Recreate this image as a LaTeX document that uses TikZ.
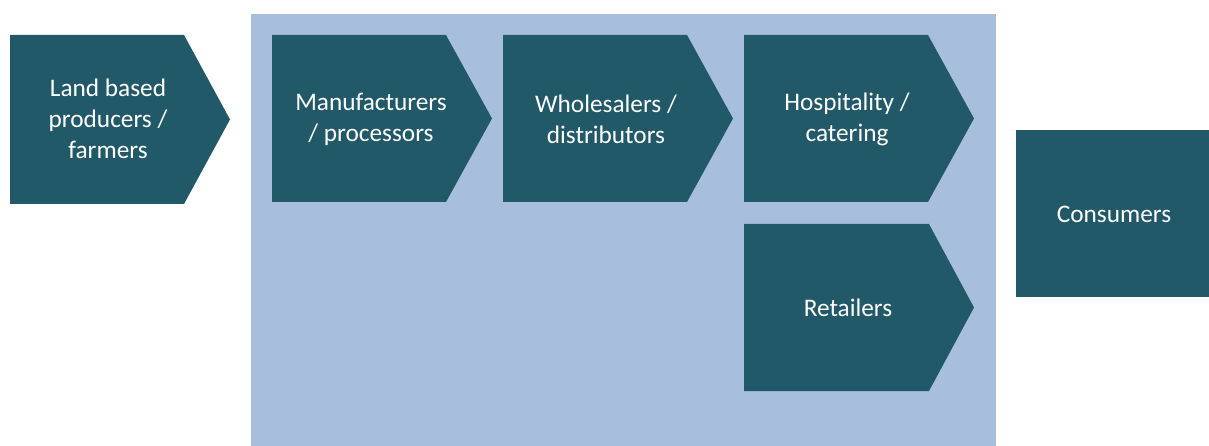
\documentclass[tikz,border=0pt]{standalone}
\usepackage{fontspec}
\setmainfont{Carlito}
\definecolor{darkteal}{HTML}{215968}
\definecolor{lightbg}{HTML}{A7BFDD}
\tikzset{
  x=1pt, y=-1pt,
  shapefill/.style={fill=darkteal},
  lbl/.style={text=white, align=center, inner sep=0pt, font=\fontsize{25.3}{31}\selectfont}
}
\newcommand\chevshape[6]{% left, top, right, bottom, tipstart, name
  \fill[shapefill] (#1,#2) -- (#5,#2) -- (#3,{(#2+#4)/2}) -- (#5,#4) -- (#1,#4) -- cycle;
  \coordinate (#6) at ({(#1+#3)/2},{(#2+#4)/2});
}
\begin{document}
\begin{tikzpicture}
\useasboundingbox (0,0) rectangle (1209,446);
\fill[lightbg] (251,14) rectangle (996,446);
\chevshape{10}{35}{230}{204}{184}{c1}
\chevshape{272}{35}{492}{202}{446}{c2}
\chevshape{503}{35}{733}{202}{687}{c3}
\chevshape{744}{35}{974}{202}{928}{c4}
\chevshape{744}{224}{974}{391}{929}{c5}
\fill[shapefill] (1016,130) rectangle (1209,297);
\node[lbl] (t1) at (108,119) {Land based\\producers /\\farmers};
\node[lbl] (t2) at (371,119) {Manufacturers\\/ processors};
\node[lbl] (t3) at (606,119) {Wholesalers /\\distributors};
\node[lbl] (t4) at (847,119) {Hospitality /\\catering};
\node[lbl] (t5) at (848,308) {Retailers};
\node[lbl] (t6) at (1114,214) {Consumers};
\end{tikzpicture}
\end{document}
